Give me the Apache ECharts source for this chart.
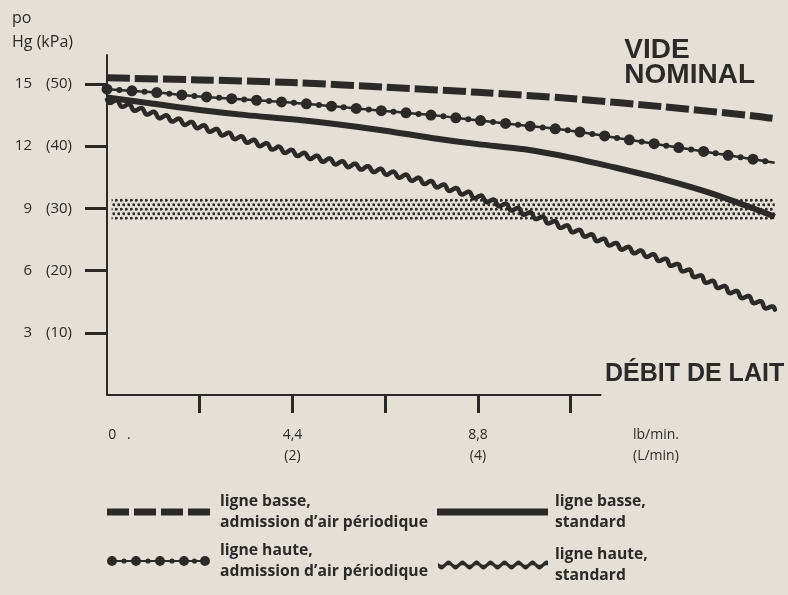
<!DOCTYPE html>
<html>
<head>
<meta charset="utf-8">
<script src="https://cdn.jsdelivr.net/npm/echarts@6.0.0/dist/echarts.min.js"></script>
<style>
  html, body { margin: 0; padding: 0; background: #e4e0d8; }
  #chart { width: 788px; height: 595px; }
</style>
</head>
<body>
<div id="chart"></div>
<script>
// débit de lait en L/min (x), vide en po Hg (y)
var basseAdmission = [[0, 15.3], [1, 15.2], [2, 15.07], [3, 14.85], [4, 14.6], [5, 14.3], [6, 13.9], [7, 13.45], [7.2, 13.33]];
var hauteAdmission = [[0, 14.75], [0.5, 14.6], [1, 14.4], [1.5, 14.25], [2, 14.1], [2.5, 13.9], [3, 13.7], [3.5, 13.5], [4, 13.25], [4.5, 13.0], [5, 12.75], [5.5, 12.4], [6, 12.05], [6.5, 11.7], [7, 11.35], [7.2, 11.2]];
var basseStandard = [[0, 14.35], [0.5, 14.05], [1, 13.75], [1.5, 13.5], [2, 13.3], [2.5, 13.05], [3, 12.75], [3.5, 12.4], [4, 12.1], [4.5, 11.85], [5, 11.45], [5.5, 10.95], [6, 10.4], [6.5, 9.75], [7, 8.95], [7.2, 8.6]];
var hauteStandard = [[0, 14.25], [0.5, 13.55], [1, 12.95], [1.5, 12.3], [2, 11.7], [2.5, 11.2], [3, 10.75], [3.5, 10.2], [4, 9.55], [4.5, 8.8], [5, 8.0], [5.5, 7.2], [6, 6.5], [6.5, 5.45], [7, 4.5], [7.2, 4.1]];

// bande grisée (vide de travail)
var bandeX = [0.05, 7.2];
var bandeY = [8.45, 9.52];
// ligne de l'axe x, qui s'arrête avant le titre
var axeX = [[0, 0], [5.33, 0]];

var yTicks = [3, 6, 9, 12, 15];
var yKpa = [10, 20, 30, 40, 50];
var xTicks = [1, 2, 3, 4, 5];
var xLabelValues = [0, 2, 4];
var xLabelLb = ['0   .', '4,4', '8,8'];
var xLabelL = ['', '(2)', '(4)'];

var names = [
  'ligne basse, admission d\u2019air périodique',
  'ligne basse, standard',
  'ligne haute, admission d\u2019air périodique',
  'ligne haute, standard'
];

var ink = '#2b2a28';
var font = '"Open Sans", sans-serif';
var boldFont = '"Liberation Sans", Arial, sans-serif';

var chartDom = document.getElementById('chart');
var chart = echarts.init(chartDom, null, { renderer: 'canvas' });

function stipple() {
  var c = document.createElement('canvas');
  c.width = 5;
  c.height = 9;
  var ctx = c.getContext('2d');
  ctx.fillStyle = ink;
  [[1.25, 2.25], [3.75, 6.75]].forEach(function (p) {
    ctx.beginPath();
    ctx.arc(p[0], p[1], 1.45, 0, Math.PI * 2);
    ctx.fill();
  });
  return c;
}

// trace ondulé le long d'une courbe lissée (en pixels)
function wavyPoints(pts, wave, amp) {
  var dense = [];
  for (var i = 0; i < pts.length - 1; i++) {
    var p0 = pts[Math.max(i - 1, 0)], p1 = pts[i], p2 = pts[i + 1], p3 = pts[Math.min(i + 2, pts.length - 1)];
    var n = Math.max(2, Math.ceil(Math.hypot(p2[0] - p1[0], p2[1] - p1[1])));
    for (var k = 0; k < n; k++) {
      var t = k / n, t2 = t * t, t3 = t2 * t;
      var pt = [];
      for (var d = 0; d < 2; d++) {
        pt.push(0.5 * (2 * p1[d] + (-p0[d] + p2[d]) * t + (2 * p0[d] - 5 * p1[d] + 4 * p2[d] - p3[d]) * t2 + (-p0[d] + 3 * p1[d] - 3 * p2[d] + p3[d]) * t3));
      }
      dense.push(pt);
    }
  }
  dense.push(pts[pts.length - 1]);
  var out = [], s = 0;
  for (var j = 0; j < dense.length; j++) {
    var a = dense[Math.max(j - 1, 0)], b = dense[Math.min(j + 1, dense.length - 1)];
    var dx = b[0] - a[0], dy = b[1] - a[1], len = Math.hypot(dx, dy) || 1;
    if (j > 0) s += Math.hypot(dense[j][0] - dense[j - 1][0], dense[j][1] - dense[j - 1][1]);
    var off = amp * Math.sin(2 * Math.PI * s / wave);
    out.push([dense[j][0] - dy / len * off, dense[j][1] + dx / len * off]);
  }
  return out;
}

// icônes de légende
var dashIcon = 'path://M0,0h22v7h-22zM27,0h22v7h-22zM54,0h22v7h-22zM81,0h22v7h-22z';
var solidIcon = 'path://M0,0h111v7h-111z';
var dotIcon = (function () {
  var p = 'path://M5,4h93v2h-93z';
  [5, 29, 53, 77, 98].forEach(function (cx) {
    p += 'M' + (cx - 5) + ',5a5,5 0 1,1 10,0a5,5 0 1,1 -10,0z';
  });
  [17, 41, 65, 87.5].forEach(function (cx) {
    p += 'M' + (cx - 2.6) + ',5a2.6,2.6 0 1,1 5.2,0a2.6,2.6 0 1,1 -5.2,0z';
  });
  return p;
})();
var waveIcon = (function () {
  var top = [], bottom = [];
  for (var x = 0; x <= 110; x++) {
    var y = 4.5 + 2.2 * Math.sin(2 * Math.PI * x / 14);
    top.push(x + ',' + (y - 2.3).toFixed(2));
    bottom.unshift(x + ',' + (y + 2.3).toFixed(2));
  }
  return 'path://M' + top.join('L') + 'L' + bottom.join('L') + 'z';
})();

function legendAt(name, icon, w, h, left, cy, padLeft) {
  return {
    data: [{ name: name, icon: icon }],
    left: left,
    top: cy - 31.5,
    padding: 0,
    itemWidth: w,
    itemHeight: h,
    selectedMode: false,
    symbolKeepAspect: false,
    itemStyle: { color: ink, borderWidth: 0 },
    formatter: function (n) { return n.replace(', ', ',\n'); },
    textStyle: {
      fontFamily: font, fontWeight: 700, fontSize: 15.7, lineHeight: 21,
      color: ink, padding: [21, 0, 0, padLeft]
    }
  };
}

var option = {
  backgroundColor: '#e4e0d8',
  animation: false,
  grid: { left: 107, right: 4, top: 55, bottom: 200 },
  legend: [
    legendAt(names[0], dashIcon, 103, 7, 107, 512, 5),
    legendAt(names[1], solidIcon, 111, 7, 437, 512, 2),
    legendAt(names[2], dotIcon, 103, 10, 107, 561, 5),
    legendAt(names[3], waveIcon, 110, 9, 438, 565, 2)
  ],
  xAxis: {
    type: 'value',
    min: 0,
    max: 7.3,
    axisLine: { show: false },
    splitLine: { show: false },
    axisTick: {
      show: true, customValues: xTicks, length: 18,
      lineStyle: { color: ink, width: 3 }
    },
    axisLabel: {
      customValues: xLabelValues,
      margin: 30,
      color: ink,
      fontFamily: font,
      fontSize: 14,
      lineHeight: 21,
      formatter: function (v) {
        var i = xLabelValues.indexOf(v);
        if (i === 0) return '{z|' + xLabelLb[0] + '}';
        return xLabelLb[i] + '\n' + xLabelL[i];
      },
      rich: {
        z: { fontFamily: font, fontSize: 14, lineHeight: 21, color: ink, padding: [0, 0, 0, 25] }
      }
    }
  },
  yAxis: {
    type: 'value',
    min: 0,
    max: 16.4,
    axisLine: { show: true, lineStyle: { color: ink, width: 2 } },
    splitLine: { show: false },
    axisTick: {
      show: true, customValues: yTicks, length: 22,
      lineStyle: { color: ink, width: 3 }
    },
    axisLabel: {
      customValues: yTicks,
      margin: 35,
      formatter: function (v) {
        var i = yTicks.indexOf(v);
        return '{a|' + v + '}{b|(' + yKpa[i] + ')}';
      },
      rich: {
        a: { fontFamily: font, fontSize: 15, color: ink, width: 18, align: 'right' },
        b: { fontFamily: font, fontSize: 15, color: ink, width: 40, align: 'right' }
      }
    }
  },
  graphic: [
    {
      type: 'text', left: 12, top: 6,
      style: { text: 'po\nHg (kPa)', font: '500 16px ' + font, lineHeight: 24, fill: ink }
    },
    {
      type: 'text', right: 33, top: 36,
      style: { text: 'VIDE\nNOMINAL', font: 'bold 28px ' + boldFont, lineHeight: 25, fill: ink, align: 'right' }
    },
    {
      type: 'text', left: 605, top: 362,
      style: { text: 'DÉBIT DE LAIT', font: 'bold 25px ' + boldFont, lineHeight: 25, fill: ink }
    },
    {
      type: 'text', left: 633, top: 425,
      style: { text: 'lb/min.\n(L/min)', font: '14px ' + font, lineHeight: 21, fill: ink }
    }
  ],
  series: [
    {
      name: 'axe',
      type: 'line',
      data: axeX,
      symbol: 'none',
      silent: true,
      clip: false,
      lineStyle: { color: ink, width: 2 },
      markArea: {
        silent: true,
        itemStyle: { color: { image: stipple(), repeat: 'repeat' } },
        data: [[{ coord: [bandeX[0], bandeY[0]] }, { coord: [bandeX[1], bandeY[1]] }]]
      }
    },
    {
      name: names[0],
      type: 'line',
      data: basseAdmission,
      smooth: 0.3,
      symbol: 'none',
      itemStyle: { color: ink },
      lineStyle: { color: ink, width: 7, type: [23, 5], cap: 'butt' }
    },
    {
      name: names[1],
      type: 'line',
      data: basseStandard,
      smooth: 0.3,
      symbol: 'none',
      itemStyle: { color: ink },
      lineStyle: { color: ink, width: 6 }
    },
    {
      name: names[2],
      type: 'line',
      data: hauteAdmission,
      smooth: 0.3,
      symbol: 'none',
      itemStyle: { color: ink },
      lineStyle: { color: ink, width: 2.5 }
    },
    {
      name: 'points gros',
      type: 'line',
      data: hauteAdmission,
      smooth: 0.3,
      symbol: 'none',
      silent: true,
      lineStyle: { color: ink, width: 11, type: [0, 25], cap: 'round' }
    },
    {
      name: 'points petits',
      type: 'line',
      data: hauteAdmission,
      smooth: 0.3,
      symbol: 'none',
      silent: true,
      lineStyle: { color: ink, width: 6, type: [0, 25], dashOffset: 12.5, cap: 'round' }
    },
    {
      name: names[3],
      type: 'custom',
      data: [hauteStandard[0]],
      itemStyle: { color: ink },
      renderItem: function (params, api) {
        var pts = hauteStandard.map(function (p) { return api.coord(p); });
        return {
          type: 'polyline',
          shape: { points: wavyPoints(pts, 13, 2.4) },
          style: { stroke: ink, lineWidth: 4.5, fill: null, lineJoin: 'round', lineCap: 'round' }
        };
      }
    }
  ]
};

chart.setOption(option);
</script>
</body>
</html>
